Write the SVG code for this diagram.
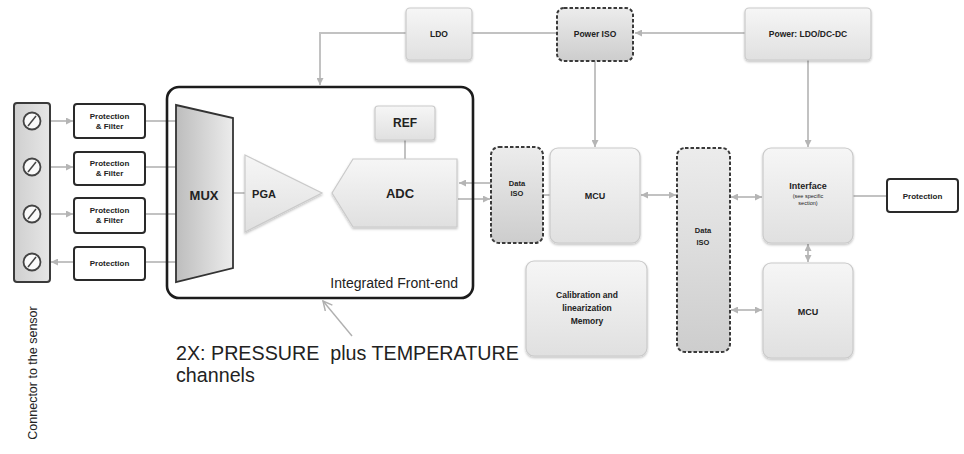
<svg xmlns="http://www.w3.org/2000/svg" width="964" height="454" viewBox="0 0 964 454">
  <defs>
    <linearGradient id="boxFill" x1="0" y1="0" x2="0" y2="1">
      <stop offset="0" stop-color="#f6f6f6"/>
      <stop offset="1" stop-color="#e0e0e0"/>
    </linearGradient>
    <linearGradient id="isoFill" x1="0" y1="0" x2="0" y2="1">
      <stop offset="0" stop-color="#ececec"/>
      <stop offset="1" stop-color="#cdcdcd"/>
    </linearGradient>
    <linearGradient id="muxFill" x1="0" y1="0" x2="1" y2="0">
      <stop offset="0" stop-color="#bdbdbd"/>
      <stop offset="1" stop-color="#ececec"/>
    </linearGradient>
    <linearGradient id="stripFill" x1="0" y1="0" x2="1" y2="0">
      <stop offset="0" stop-color="#cfcfcf"/>
      <stop offset="1" stop-color="#e6e6e6"/>
    </linearGradient>
    <filter id="shadow" x="-10%" y="-10%" width="130%" height="130%">
      <feDropShadow dx="0" dy="1.5" stdDeviation="1.2" flood-color="#000" flood-opacity="0.25"/>
    </filter>
    <marker id="arr" viewBox="0 0 10 10" refX="10" refY="5" markerWidth="7" markerHeight="7" markerUnits="userSpaceOnUse" orient="auto-start-reverse">
      <path d="M0,0 L10,5 L0,10 z" fill="#b5b5b5"/>
    </marker>
    <marker id="openArr" viewBox="0 0 12 12" refX="11" refY="6" markerWidth="11" markerHeight="11" markerUnits="userSpaceOnUse" orient="auto">
      <path d="M1,1 L11,6 L1,11" fill="none" stroke="#b0b0b0" stroke-width="1.6"/>
    </marker>
  </defs>
  <style>
    .box { fill: url(#boxFill); stroke: #cacaca; stroke-width: 1.2; filter: url(#shadow); }
    .iso { fill: url(#isoFill); stroke: #3a3a3a; stroke-width: 2; stroke-dasharray: 3.5 2; }
    .pbox { fill: #ffffff; stroke: #2a2a2a; stroke-width: 2; }
    .lbl { font-family: "Liberation Sans", Arial, sans-serif; font-weight: bold; fill: #222; text-anchor: middle; }
    .txt { font-family: "Liberation Sans", Arial, sans-serif; fill: #222; }
    .wire { fill: none; stroke: #c2c2c2; stroke-width: 2; }
  </style>

  <rect width="964" height="454" fill="#ffffff"/>

  <!-- connectors -->
  <g id="connectors">
    <path class="wire" d="M406,33 H320 V85" marker-end="url(#arr)"/>
    <path class="wire" d="M472,33 H557"/>
    <path class="wire" d="M745,33 H635" marker-end="url(#arr)"/>
    <path class="wire" d="M595,61 V147" marker-end="url(#arr)"/>
    <path class="wire" d="M808,60 V147" marker-end="url(#arr)"/>
    <path class="wire" d="M50,121 H73" marker-end="url(#arr)"/>
    <path class="wire" d="M50,167 H73" marker-end="url(#arr)"/>
    <path class="wire" d="M50,214 H73" marker-end="url(#arr)"/>
    <path class="wire" d="M74,262 H51" marker-end="url(#arr)"/>
    <path class="wire" d="M145,121 H177"/>
    <path class="wire" d="M145,167 H177"/>
    <path class="wire" d="M145,214 H177"/>
    <path class="wire" d="M145,262 H177"/>
    <path class="wire" d="M233,193 H246"/>
    <path class="wire" d="M405,140 V159"/>
    <path class="wire" d="M491,183 H459" marker-end="url(#arr)"/>
    <path class="wire" d="M458,199 H490" marker-end="url(#arr)"/>
    <path class="wire" d="M543,195 H550"/>
    <path class="wire" d="M641,195 H676" marker-start="url(#arr)" marker-end="url(#arr)"/>
    <path class="wire" d="M731,197 H762" marker-start="url(#arr)" marker-end="url(#arr)"/>
    <path class="wire" d="M808,244 V262" marker-start="url(#arr)" marker-end="url(#arr)"/>
    <path class="wire" d="M731,310 H762" marker-start="url(#arr)" marker-end="url(#arr)"/>
    <path class="wire" d="M853,196 H887"/>
    <path d="M352,336 L323,301" fill="none" stroke="#b0b0b0" stroke-width="1.4" marker-end="url(#openArr)"/>
  </g>

  <!-- sensor connector strip -->
  <g id="sensor-connector">
    <rect x="14" y="103" width="36" height="179" rx="3" fill="url(#stripFill)" stroke="#3a3a3a" stroke-width="2"/>
    <g fill="#fafafa" stroke="#444" stroke-width="1.8">
      <circle cx="32" cy="121" r="8.5"/>
      <circle cx="32" cy="167" r="8.5"/>
      <circle cx="32" cy="214" r="8.5"/>
      <circle cx="32" cy="262" r="8.5"/>
    </g>
    <g stroke="#444" stroke-width="1.5">
      <line x1="28" y1="126" x2="36" y2="116"/>
      <line x1="28" y1="172" x2="36" y2="162"/>
      <line x1="28" y1="219" x2="36" y2="209"/>
      <line x1="28" y1="267" x2="36" y2="257"/>
    </g>
    <text class="txt" font-size="12.5" text-anchor="middle" transform="translate(37,373) rotate(-90)">Connector to the sensor</text>
  </g>

  <!-- input protection and filters -->
  <g id="prot-filter-1">
    <rect class="pbox" x="74" y="104" width="71" height="34" rx="3"/>
    <text class="lbl" font-size="8" x="109.5" y="119">Protection</text>
    <text class="lbl" font-size="8" x="109.5" y="129">&amp; Filter</text>
  </g>
  <g id="prot-filter-2">
    <rect class="pbox" x="74" y="152" width="71" height="33" rx="3"/>
    <text class="lbl" font-size="8" x="109.5" y="166">Protection</text>
    <text class="lbl" font-size="8" x="109.5" y="176">&amp; Filter</text>
  </g>
  <g id="prot-filter-3">
    <rect class="pbox" x="74" y="198" width="71" height="35" rx="3"/>
    <text class="lbl" font-size="8" x="109.5" y="213">Protection</text>
    <text class="lbl" font-size="8" x="109.5" y="223">&amp; Filter</text>
  </g>
  <g id="prot-out">
    <rect class="pbox" x="74" y="247" width="71" height="33" rx="3"/>
    <text class="lbl" font-size="8" x="109.5" y="266">Protection</text>
  </g>

  <!-- integrated front-end -->
  <g id="front-end">
    <rect x="167" y="87" width="306" height="211" rx="12" fill="none" stroke="#1c1c1c" stroke-width="2.6"/>
    <text class="txt" font-size="14" x="458" y="288" text-anchor="end">Integrated Front-end</text>
  </g>
  <g id="mux">
    <path d="M176,105 L233,118 L233,268 L176,282 Z" fill="url(#muxFill)" stroke="#333" stroke-width="1.8"/>
    <text class="lbl" font-size="13" x="204" y="200">MUX</text>
  </g>
  <g id="pga">
    <path d="M245,155 L322,193 L245,232 Z" fill="url(#boxFill)" stroke="#cacaca" stroke-width="1.2" filter="url(#shadow)"/>
    <text class="lbl" font-size="11" x="264" y="198">PGA</text>
  </g>
  <g id="adc">
    <path d="M332,193 L353,159 L457,159 L457,227 L353,227 Z" fill="url(#boxFill)" stroke="#cacaca" stroke-width="1.2" filter="url(#shadow)"/>
    <text class="lbl" font-size="13" x="400" y="198">ADC</text>
  </g>
  <g id="ref">
    <rect class="box" x="375" y="106" width="60" height="34" rx="3"/>
    <text class="lbl" font-size="12" x="405" y="127">REF</text>
  </g>

  <!-- power -->
  <g id="ldo">
    <rect class="box" x="406" y="8" width="66" height="52" rx="4"/>
    <text class="lbl" font-size="8.5" x="439" y="37">LDO</text>
  </g>
  <g id="power-iso">
    <rect class="iso" x="557" y="8" width="76" height="53" rx="7"/>
    <text class="lbl" font-size="8.5" x="595" y="37">Power ISO</text>
  </g>
  <g id="power-supply">
    <rect class="box" x="745" y="8" width="126" height="52" rx="4"/>
    <text class="lbl" font-size="8.5" x="808" y="37">Power: LDO/DC-DC</text>
  </g>

  <!-- data path -->
  <g id="data-iso-1">
    <rect class="iso" x="491" y="147" width="52" height="96" rx="8"/>
    <text class="lbl" font-size="7.5" x="517" y="186">Data</text>
    <text class="lbl" font-size="7.5" x="517" y="196">ISO</text>
  </g>
  <g id="mcu-1">
    <rect class="box" x="550" y="148" width="90" height="95" rx="8"/>
    <text class="lbl" font-size="9" x="595" y="199">MCU</text>
  </g>
  <g id="cal-memory">
    <rect class="box" x="526" y="261" width="121" height="95" rx="8"/>
    <text class="lbl" font-size="8.5" x="587" y="298">Calibration and</text>
    <text class="lbl" font-size="8.5" x="587" y="311">linearization</text>
    <text class="lbl" font-size="8.5" x="587" y="324">Memory</text>
  </g>
  <g id="data-iso-2">
    <rect class="iso" x="677" y="148" width="53" height="204" rx="8"/>
    <text class="lbl" font-size="7.5" x="703" y="233">Data</text>
    <text class="lbl" font-size="7.5" x="703" y="245">ISO</text>
  </g>
  <g id="interface">
    <rect class="box" x="763" y="148" width="90" height="95" rx="8"/>
    <text class="lbl" font-size="9" x="808" y="189">Interface</text>
    <text class="txt" font-size="5.5" x="808" y="198" text-anchor="middle">(see specific</text>
    <text class="txt" font-size="5.5" x="808" y="205" text-anchor="middle">section)</text>
  </g>
  <g id="mcu-2">
    <rect class="box" x="763" y="263" width="90" height="95" rx="8"/>
    <text class="lbl" font-size="9" x="808" y="315">MCU</text>
  </g>
  <g id="prot-right">
    <rect class="pbox" x="887" y="179" width="71" height="33" rx="3"/>
    <text class="lbl" font-size="8" x="922.5" y="199">Protection</text>
  </g>

  <!-- channel note -->
  <g id="channel-note">
    <text class="txt" font-size="19.7" x="176" y="360" xml:space="preserve">2X: PRESSURE  plus TEMPERATURE</text>
    <text class="txt" font-size="19.7" x="176" y="382">channels</text>
  </g>
</svg>
